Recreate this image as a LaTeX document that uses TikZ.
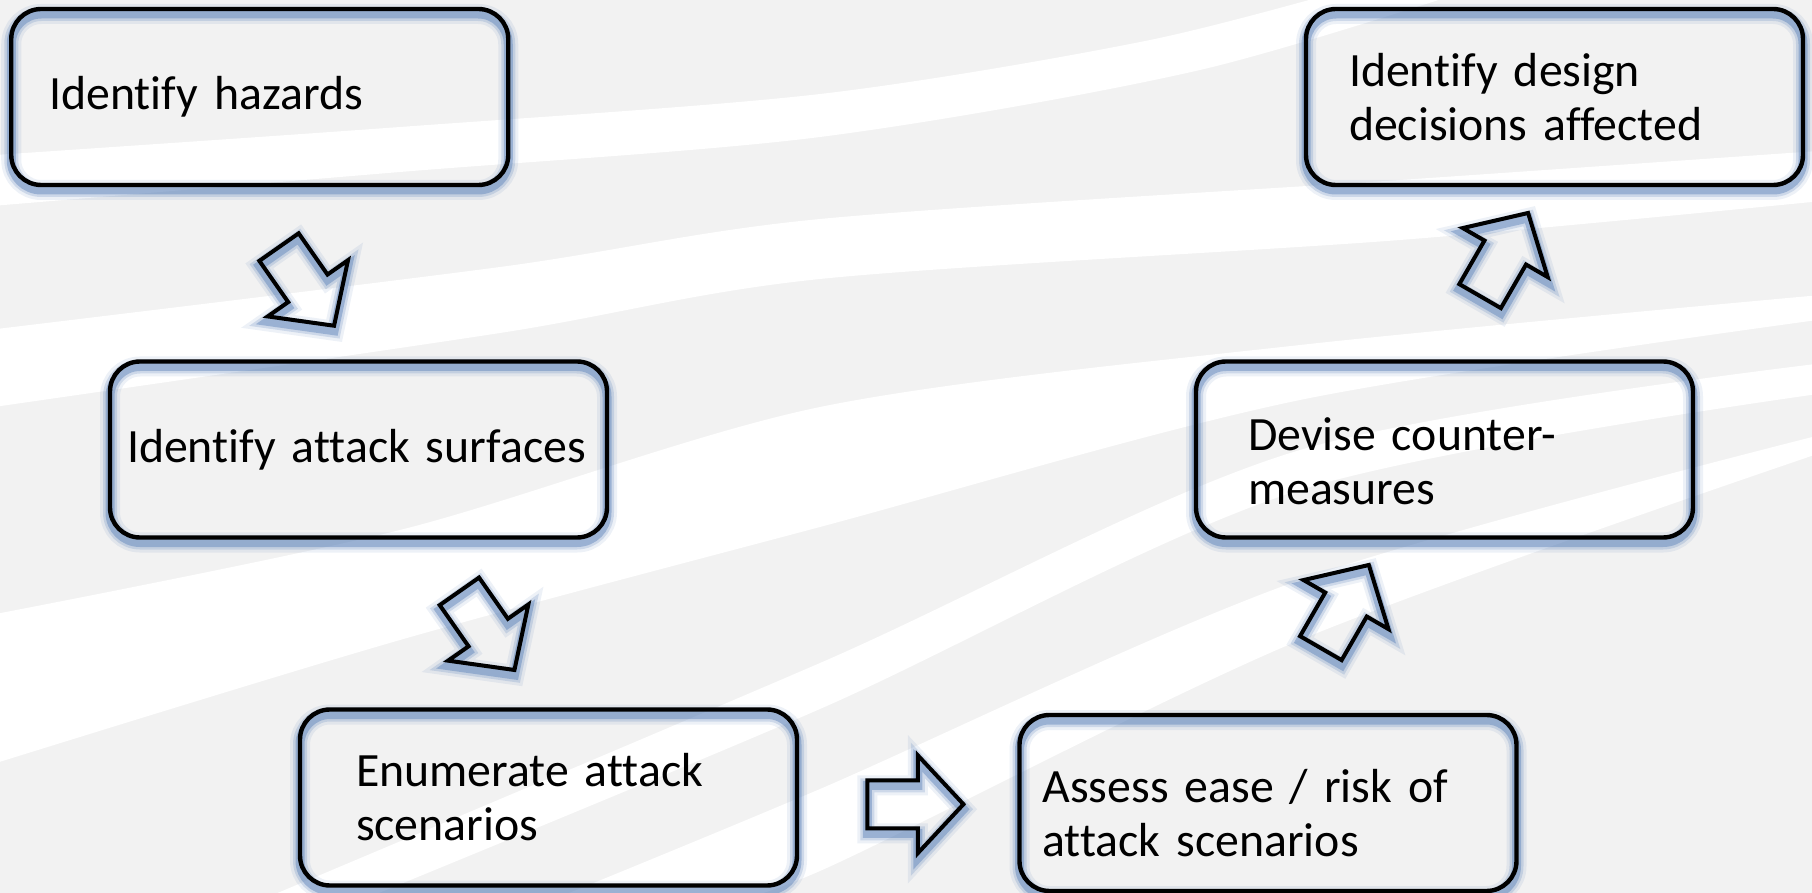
\documentclass[tikz,border=0pt]{standalone}
\usepackage{fontspec}
\setmainfont{Carlito}[Ligatures={NoCommon},WordSpace={0.75}]
\usetikzlibrary{shapes.arrows,calc,positioning}
\definecolor{bggray}{RGB}{242,242,242}
\definecolor{glowblue}{RGB}{79,120,180}

\tikzset{
  glow/.style={
    preaction={draw=glowblue,line width=10pt,opacity=.1,transform canvas={yshift=-2.5pt}},
    preaction={draw=glowblue,line width=7pt,opacity=.2,transform canvas={yshift=-2.5pt}},
    preaction={draw=glowblue,line width=4.5pt,opacity=.4,transform canvas={yshift=-2.5pt}}},
  stage/.style={glow,draw=black,line width=2.2pt,rounded corners=15pt,
    minimum width=248.5pt,minimum height=88pt,align=left,
    font=\fontsize{23.9pt}{27pt}\selectfont},
  flow/.style={glow,single arrow,draw=black,line width=2pt,inner xsep=0pt,
    inner ysep=11pt,minimum height=48pt,single arrow head extend=12.5pt,
    single arrow tip angle=94}
}

\begin{document}
\begin{tikzpicture}[x=0.5pt,y=-0.5pt]
\useasboundingbox (0,0) rectangle (1812,893);

% background
\fill[bggray] (0,0) rectangle (1812,893);
\begin{scope}
\clip (0,0) rectangle (1812,893);
\fill[white] plot[smooth] coordinates {(-20,156) (400,127) (820,94) (1150,40) (1380,-20)}
  -- plot[smooth] coordinates {(1500,-20) (1200,70) (820,137) (400,172) (-20,207)} -- cycle;
\fill[white] plot[smooth] coordinates {(-20,331) (500,267) (820,219) (1400,180) (1832,150)}
  -- plot[smooth] coordinates {(1832,200) (1400,240) (820,279) (500,333) (-20,409)} -- cycle;
\fill[white] plot[smooth] coordinates {(-20,617) (400,530) (820,407) (1300,345) (1832,294)}
  -- plot[smooth] coordinates {(1832,318) (1300,400) (820,527) (400,640) (-20,768)} -- cycle;
\fill[white] plot[smooth] coordinates {(230,913) (820,663) (1300,450) (1832,362)}
  -- plot[smooth] coordinates {(1832,392) (1300,490) (820,709) (330,913)} -- cycle;
\fill[white] plot[smooth] coordinates {(520,913) (820,789) (1300,580) (1832,432)}
  -- plot[smooth] coordinates {(1832,449) (1300,640) (820,871) (680,913)} -- cycle;
\end{scope}

\node[stage,inner xsep=19pt,text width=210.5pt] (hazards) at (259.75,97) {Identify hazards};
\node[stage,inner xsep=8.5pt,text width=231.5pt] (surfaces) at (358.5,449.5) {Identify attack surfaces};
\node[stage,inner xsep=28pt,text width=192.5pt] (enum) at (548.5,797.5) {Enumerate attack\\scenarios};
\node[stage,inner xsep=11.5pt,text width=225.5pt] (assess) at (1268,803) {\rule{0pt}{27pt}Assess ease / risk of\\attack scenarios};
\node[stage,inner xsep=26pt,text width=196.5pt] (devise) at (1444.5,449.5) {\rule{0pt}{28pt}Devise counter-\\measures};
\node[stage,inner xsep=21.5pt,text width=205.5pt] (design) at (1554.5,97) {Identify design\\decisions affected};

\node[flow,rotate=-55] (a1) at ($(hazards)!0.5!(surfaces)+(-9,4)$) {};
\node[flow,rotate=-55] (a2) at ($(surfaces)!0.5!(enum)+(27,-2)$) {};
\node[flow] (a3) at ($(enum)!0.5!(assess)+(-4,4)$) {};
\node[flow,rotate=60] (a4) at ($(assess)!0.5!(devise)+(-17,-10)$) {};
\node[flow,rotate=60] (a5) at ($(devise)!0.5!(design)+(-1,-9)$) {};
\end{tikzpicture}
\end{document}
